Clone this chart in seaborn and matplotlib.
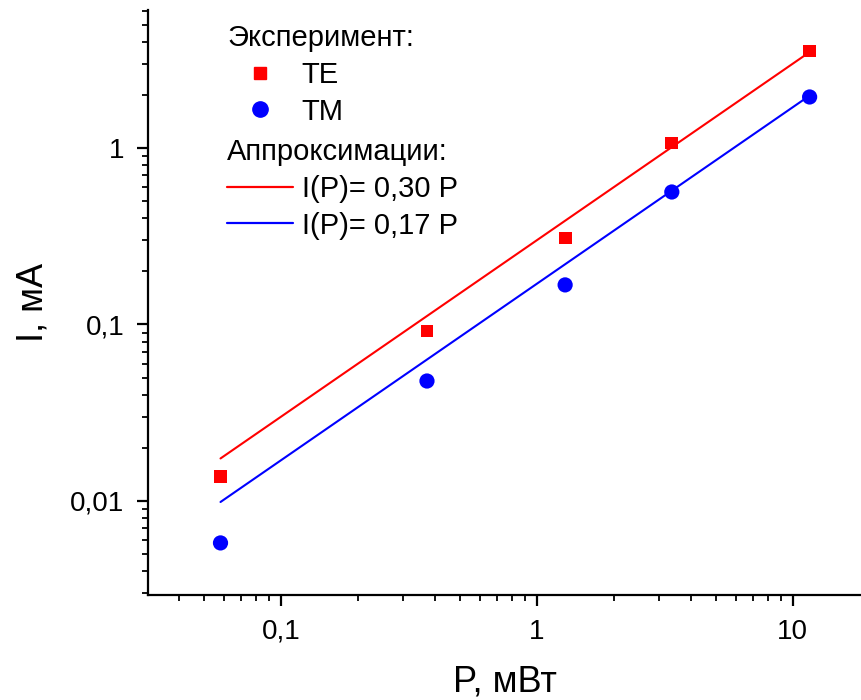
import numpy as np
import pandas as pd
import matplotlib
matplotlib.use("Agg")
import matplotlib.pyplot as plt
import seaborn as sns
from matplotlib.ticker import FixedLocator, FuncFormatter, LogLocator, NullFormatter
from matplotlib.lines import Line2D

# Data
power = [0.058, 0.372, 1.29, 3.37, 11.65]          # P, mW
te_current = [0.0137, 0.0918, 0.309, 1.067, 3.54]  # I, mA (TE)
tm_current = [0.00578, 0.0478, 0.1675, 0.563, 1.945]  # I, mA (TM)
fit_coef_te = 0.30
fit_coef_tm = 0.17
fit_range = [0.058, 11.65]

sns.set_theme(style="ticks")
plt.rcParams['font.family'] = ['Liberation Sans', 'DejaVu Sans']
plt.rcParams['text.color'] = 'black'
plt.rcParams['axes.labelcolor'] = 'black'
plt.rcParams['xtick.color'] = 'black'
plt.rcParams['ytick.color'] = 'black'

fig = plt.figure(figsize=(8.61, 7.0), dpi=100)
ax = fig.add_axes([148/861, 1-595/700, 1-148/861, (595-10)/700])

df_pts = pd.DataFrame({
    "P": power * 2,
    "I": te_current + tm_current,
    "mode": ["TE"] * len(power) + ["TM"] * len(power),
})
fit_df = pd.DataFrame({
    "P": fit_range * 2,
    "I": [fit_coef_te * p for p in fit_range] + [fit_coef_tm * p for p in fit_range],
    "fit": ["te"] * 2 + ["tm"] * 2,
})

sns.lineplot(data=fit_df, x="P", y="I", hue="fit", palette={"te": "#FF0000", "tm": "#0000FF"},
             linewidth=1.5, legend=False, ax=ax)
te = df_pts[df_pts["mode"] == "TE"]
tm = df_pts[df_pts["mode"] == "TM"]
sns.scatterplot(data=te, x="P", y="I", marker="s", s=85, color="#FF0000", edgecolor="none",
                legend=False, ax=ax, zorder=3)
sns.scatterplot(data=tm, x="P", y="I", marker="o", s=120, color="#0000FF", edgecolor="none",
                legend=False, ax=ax, zorder=3)

ax.set_xscale("log")
ax.set_yscale("log")
ax.set_xlim(0.0302, 18.5)
ax.set_ylim(0.00293, 6.05)

def comma_fmt(v, pos):
    return f"{v:g}".replace(".", ",")

ax.xaxis.set_major_locator(FixedLocator([0.1, 1, 10]))
ax.yaxis.set_major_locator(FixedLocator([0.01, 0.1, 1]))
ax.xaxis.set_major_formatter(FuncFormatter(comma_fmt))
ax.yaxis.set_major_formatter(FuncFormatter(comma_fmt))
ax.xaxis.set_minor_locator(LogLocator(base=10, subs=np.arange(2, 10), numticks=20))
ax.yaxis.set_minor_locator(LogLocator(base=10, subs=np.arange(2, 10), numticks=20))
ax.xaxis.set_minor_formatter(NullFormatter())
ax.yaxis.set_minor_formatter(NullFormatter())

for side in ["top", "right"]:
    ax.spines[side].set_visible(False)
for side in ["left", "bottom"]:
    ax.spines[side].set_linewidth(1.6)
    ax.spines[side].set_color("black")

ax.tick_params(which="major", direction="out", length=8, width=1.6, labelsize=20, colors="black", pad=9)
ax.tick_params(which="minor", direction="out", length=4.5, width=1.3, colors="black")

ax.set_xlabel("P, мВт", fontsize=26, labelpad=14, color="black")
ax.set_ylabel("I, мА", fontsize=26, labelpad=14, color="black")

# Legends
LFS = 21
h_te = Line2D([], [], marker="s", color="#FF0000", linestyle="none", markersize=9)
h_tm = Line2D([], [], marker="o", color="#0000FF", linestyle="none", markersize=11)
leg1 = ax.legend([h_te, h_tm], ["TE", "TM"], title="Эксперимент:", loc="upper left",
                 bbox_to_anchor=((227-148)/713, 1-(24-10)/585), frameon=False, fontsize=LFS,
                 title_fontsize=LFS, alignment="left", handlelength=2.26, handletextpad=0.3,
                 labelspacing=0.3, borderpad=0, borderaxespad=0)
ax.add_artist(leg1)
h_fr = Line2D([], [], color="#FF0000", linewidth=1.6)
h_fb = Line2D([], [], color="#0000FF", linewidth=1.6)
leg2 = ax.legend([h_fr, h_fb], ["I(P)= 0,30 P", "I(P)= 0,17 P"], title="Аппроксимации:",
                 loc="upper left", bbox_to_anchor=((227-148)/713, 1-(138-10)/585), frameon=False,
                 fontsize=LFS, title_fontsize=LFS, alignment="left", handlelength=2.26,
                 handletextpad=0.3, labelspacing=0.3, borderpad=0, borderaxespad=0)
for lg in (leg1, leg2):
    lg.get_title().set_color("black")
    for t in lg.get_texts():
        t.set_color("black")

fig.savefig("out.png", dpi=100)
